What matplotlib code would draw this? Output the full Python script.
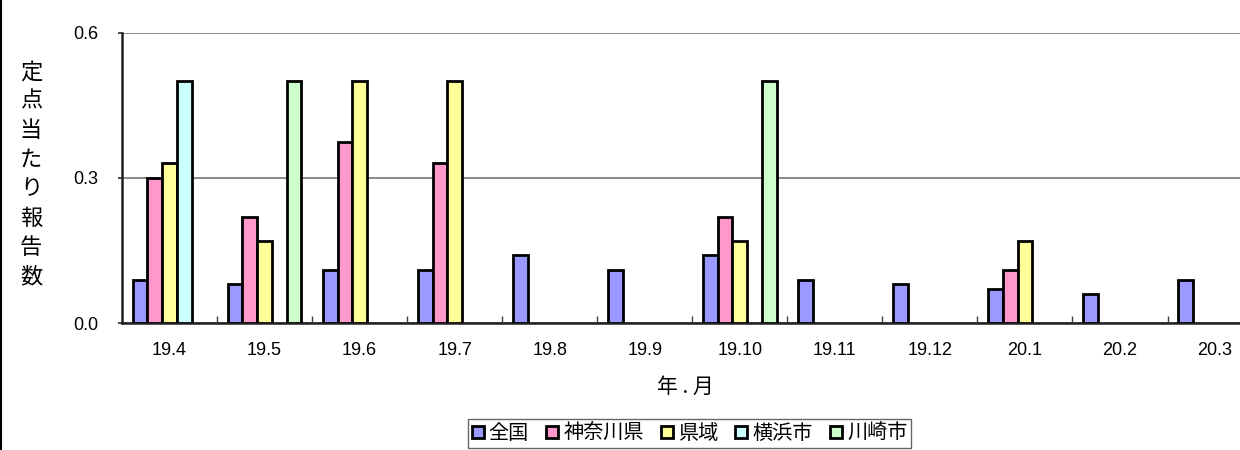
import numpy as np
import matplotlib
matplotlib.use("Agg")
import matplotlib.pyplot as plt
from matplotlib.lines import Line2D

plt.rcParams["font.family"] = ["Liberation Sans", "Noto Sans CJK JP"]

months = ["19.4", "19.5", "19.6", "19.7", "19.8", "19.9",
          "19.10", "19.11", "19.12", "20.1", "20.2", "20.3"]
nan = np.nan
zenkoku = [0.09, 0.08, 0.11, 0.11, 0.14, 0.11, 0.14, 0.09, 0.08, 0.07, 0.06, 0.09]
kanagawa = [0.30, 0.22, 0.375, 0.33, nan, nan, 0.22, nan, nan, 0.11, nan, nan]
kenniki = [0.33, 0.17, 0.50, 0.50, nan, nan, 0.17, nan, nan, 0.17, nan, nan]
yokohama = [0.50, nan, nan, nan, nan, nan, nan, nan, nan, nan, nan, nan]
kawasaki = [nan, 0.50, nan, nan, nan, nan, 0.50, nan, nan, nan, nan, nan]

series_names = ["全国", "神奈川県", "県域", "横浜市", "川崎市"]
series_values = [zenkoku, kanagawa, kenniki, yokohama, kawasaki]
colors = ["#9999FF", "#FF99CC", "#FFFF99", "#CCFFFF", "#CCFFCC"]

cjk = ["Noto Sans CJK JP", "Liberation Sans"]

fig = plt.figure(figsize=(12.4, 4.5), dpi=100)
ax = fig.add_axes([122 / 1240, 1 - 323 / 450, 1140.6 / 1240, 290 / 450])

x = np.arange(len(months))
w = 0.155
for i, (name, vals, c) in enumerate(zip(series_names, series_values, colors)):
    ax.bar(x + (i - 2) * w, vals, width=w, color=c, edgecolor="black",
           linewidth=2.0, label=name, zorder=3)

ax.set_xlim(-0.5, len(months) - 0.5)
ax.set_ylim(0, 0.6)
ax.set_yticks([0.0, 0.3, 0.6])
ax.set_yticklabels(["0.0", "0.3", "0.6"])
ax.yaxis.grid(True, color="#808080", linewidth=1.3, zorder=0)
ax.set_axisbelow(True)

ax.set_xticks(x)
ax.set_xticklabels(months)
ax.set_xticks(np.arange(0.5, len(months) - 1, 1.0), minor=True)
ax.tick_params(axis="x", which="major", length=0, pad=14, labelsize=13)
ax.tick_params(axis="x", which="minor", direction="in", length=5,
               width=1, color="#404040")
ax.tick_params(axis="y", direction="out", length=3, width=1.3,
               color="#404040", pad=14, labelsize=13)

for s in ["top", "right"]:
    ax.spines[s].set_visible(False)
ax.spines["left"].set_linewidth(1.8)
ax.spines["left"].set_color("#202020")
ax.spines["bottom"].set_linewidth(1.8)
ax.spines["bottom"].set_color("#202020")

# vertical y label, one character per line
ylab = "定点当たり報告数"
for i, ch in enumerate(ylab):
    fig.text(31 / 1240, 1 - (72 + i * 29.2) / 450, ch, ha="center", va="center",
             fontsize=16, family=cjk)

fig.text(685 / 1240, 1 - 387 / 450, "年 . 月", ha="center", va="center",
         fontsize=15, family=cjk)

leg = fig.legend(loc="upper center", bbox_to_anchor=(689.5 / 1240, 1 - 419 / 450),
                 ncol=5, frameon=True, fancybox=False, edgecolor="#404040",
                 handlelength=0.6, handleheight=0.6, handletextpad=0.25,
                 columnspacing=0.85, borderpad=0.2, borderaxespad=0,
                 prop={"family": cjk, "size": 14.5})
leg.get_frame().set_linewidth(1.0)
for h in leg.legend_handles:
    h.set_linewidth(2.0)

fig.add_artist(Line2D([0.8 / 1240, 0.8 / 1240], [0, 1], color="black",
                      linewidth=1.5, transform=fig.transFigure))

fig.savefig("out.png", dpi=100)
